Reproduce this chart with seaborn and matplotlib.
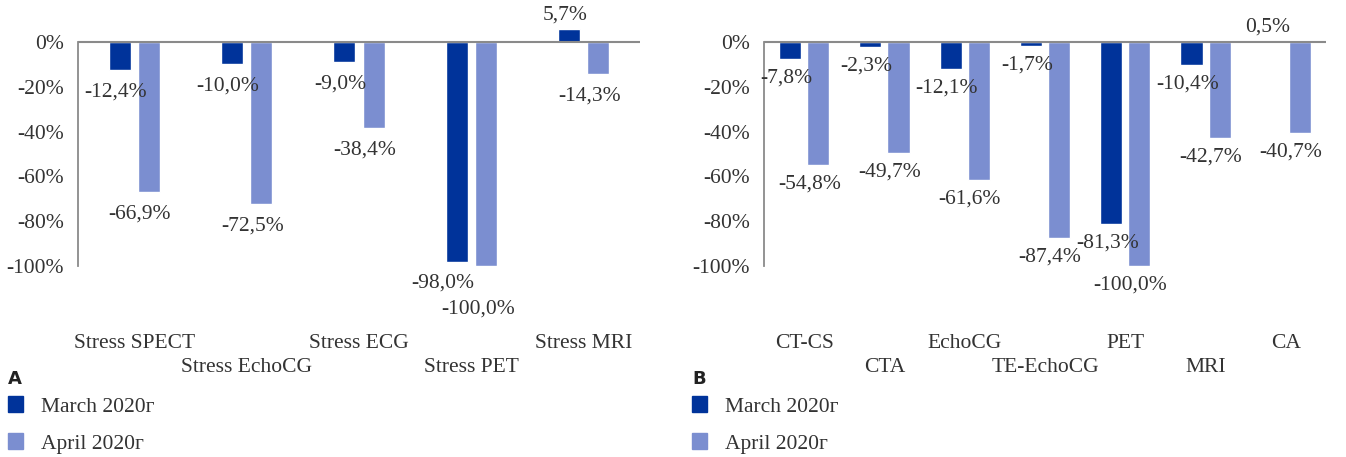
import matplotlib
matplotlib.use('Agg')
import matplotlib.pyplot as plt
from matplotlib.patches import Patch
import pandas as pd
import seaborn as sns

# panel A
cats_a = ['Stress SPECT', 'Stress EchoCG', 'Stress ECG', 'Stress PET', 'Stress MRI']
march_a = [-12.4, -10.0, -9.0, -98.0, 5.7]
april_a = [-66.9, -72.5, -38.4, -100.0, -14.3]

# panel B
cats_b = ['CT-CS', 'CTA', 'EchoCG', 'TE-EchoCG', 'PET', 'MRI', 'CA']
march_b = [-7.8, -2.3, -12.1, -1.7, -81.3, -10.4, 0.5]
april_b = [-54.8, -49.7, -61.6, -87.4, -100.0, -42.7, -40.7]

months = ['March 2020г', 'April 2020г']
yticks = [0, -20, -40, -60, -80, -100]

DARK = '#00339a'
LIGHT = '#7b8ed0'
TXT = '#333333'
AXC = '#8a8a8a'
SERIF = ['Liberation Serif', 'DejaVu Serif']
FS = 15.5

sns.set_style('white')
plt.rcParams['font.family'] = SERIF

W, H = 1346, 457
fig = plt.figure(figsize=(W / 100, H / 100), dpi=100)


def fmt(v):
    return f'{v:.1f}%'.replace('.', ',')


def draw_panel(left_px, right_px, cats, march, april, width, gap, dy, tweaks):
    ax = fig.add_axes([left_px / W, (H - 266) / H, (right_px - left_px) / W, (266 - 15) / H])
    df = pd.DataFrame({
        'cat': cats * 2,
        'val': march + april,
        'month': [months[0]] * len(cats) + [months[1]] * len(cats),
    })
    sns.barplot(data=df, x='cat', y='val', hue='month', order=cats, hue_order=months,
                palette=[DARK, LIGHT], saturation=1, width=width, gap=gap,
                legend=False, ax=ax)
    ax.set_xlim(-0.5, len(cats) - 0.5)
    ax.set_ylim(-100, 12)
    ax.set_xlabel('')
    ax.set_ylabel('')

    for s in ['top', 'right', 'bottom']:
        ax.spines[s].set_visible(False)
    ax.spines['left'].set_bounds(-100, 0)
    ax.spines['left'].set_color(AXC)
    ax.spines['left'].set_linewidth(1.3)
    ax.axhline(0, color=AXC, lw=1.5, zorder=1)

    ax.set_yticks(yticks)
    ax.set_yticklabels([f'{t}%' for t in yticks])
    ax.tick_params(axis='y', length=4, width=1.2, color=AXC, pad=6,
                   labelsize=FS, labelcolor=TXT)
    ax.set_xticks(range(len(cats)))
    ax.set_xticklabels(cats)
    ax.tick_params(axis='x', length=0, pad=49, labelsize=FS, labelcolor=TXT)
    # staggered category labels: odd ones on a second row
    for i, tick in enumerate(ax.xaxis.get_major_ticks()):
        if i % 2:
            tick.set_pad(66)

    for k, (cont, vals) in enumerate(zip(ax.containers, [march, april])):
        for i, (bar, v) in enumerate(zip(cont, vals)):
            x = bar.get_x() + bar.get_width() / 2
            dx, oy = tweaks.get((k, i), (-4 if k == 0 else -9, 0))
            off = 14 if v > 0 else -dy
            ax.annotate(fmt(v), xy=(x, v), xytext=(dx, off + oy),
                        textcoords='offset pixels', ha='center', va='center',
                        fontsize=FS, color=TXT, annotation_clip=False)
    return ax


draw_panel(78, 640, cats_a, march_a, april_a, 0.52, 0.25, 22,
           {(0, 3): (-14, 0), (1, 3): (-8, -21)})
draw_panel(764, 1326, cats_b, march_b, april_b, 0.70, 0.21, 19, {})

for x0, letter in [(8, 'A'), (692, 'B')]:
    fig.text(x0 / W, 1 - 379 / H, letter, fontsize=13, fontweight='bold',
             family='DejaVu Sans', color='#222222', va='center', ha='left')
    fig.legend(handles=[Patch(color=DARK, label=months[0]),
                        Patch(color=LIGHT, label=months[1])],
               loc='upper left', bbox_to_anchor=(x0 / W, 1 - 396 / H),
               frameon=False, borderpad=0, borderaxespad=0,
               handlelength=0.7, handleheight=0.8, handletextpad=0.85,
               labelspacing=0.75, prop={'family': SERIF, 'size': FS},
               labelcolor=TXT)

fig.savefig('out.png', dpi=100)
